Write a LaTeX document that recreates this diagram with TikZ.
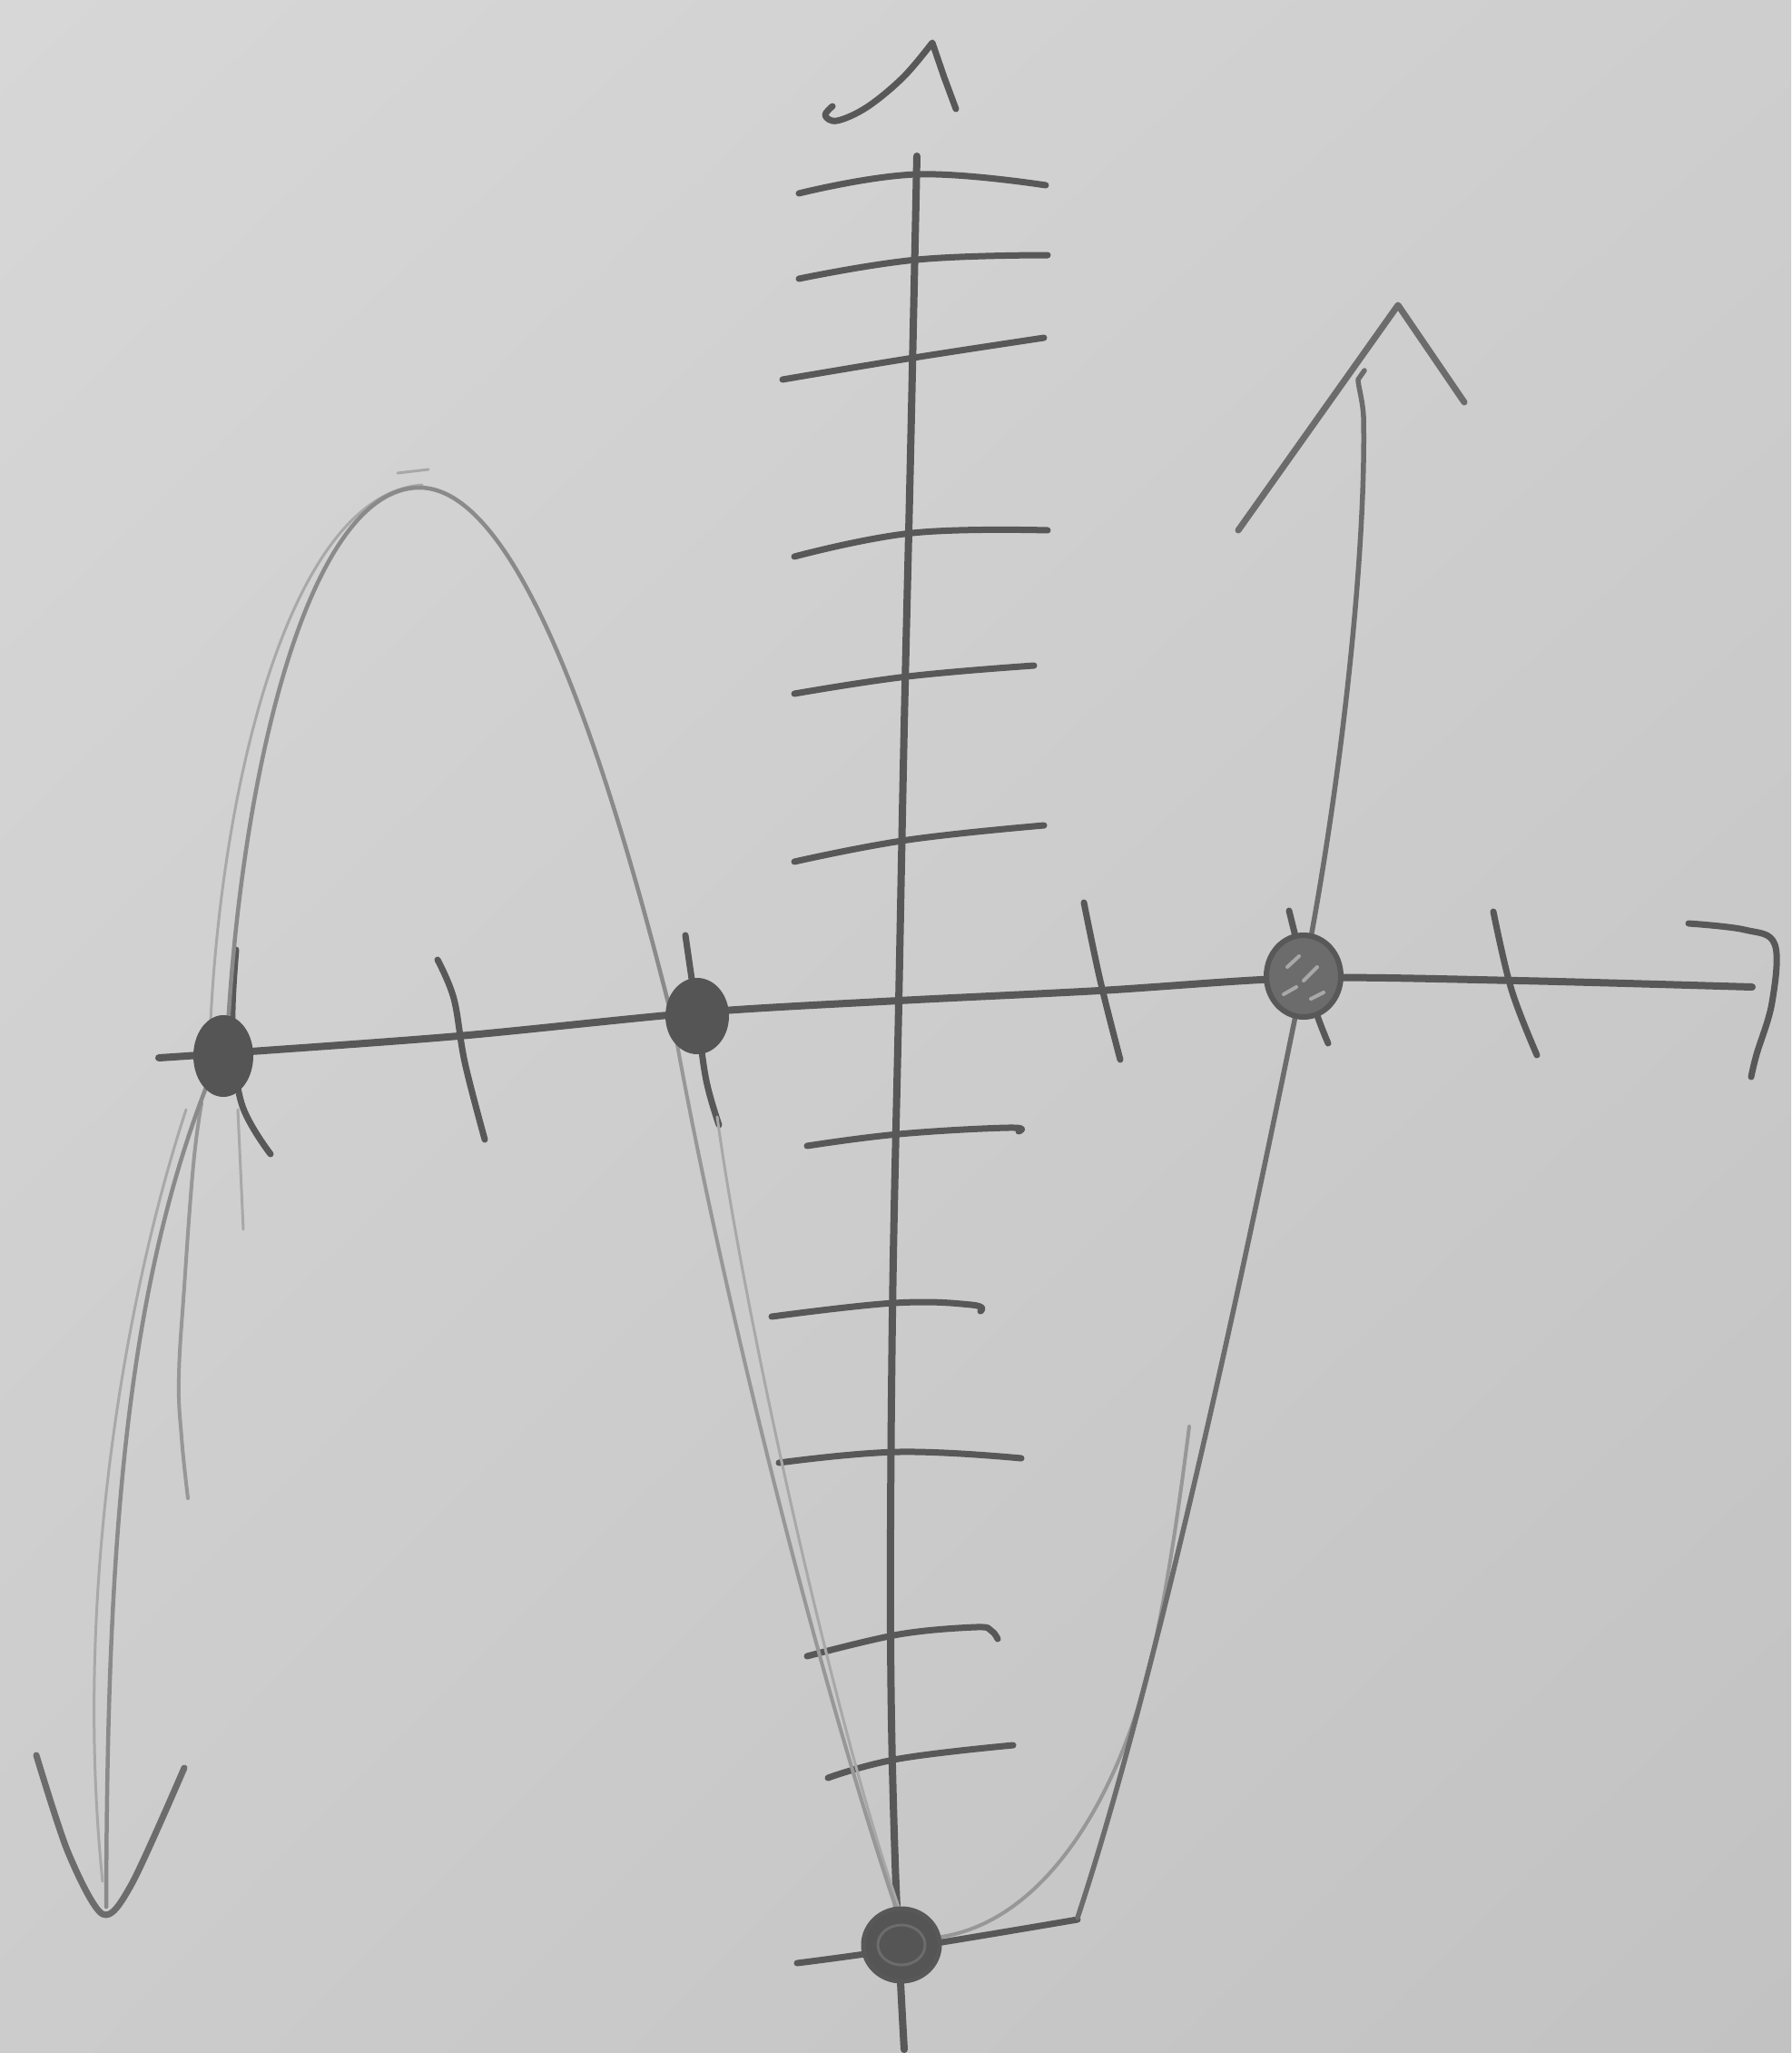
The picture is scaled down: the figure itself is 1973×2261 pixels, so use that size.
\documentclass[tikz,border=0pt]{standalone}
\usetikzlibrary{shadings}
\definecolor{paperA}{HTML}{D7D7D7}
\definecolor{paperB}{HTML}{CECECE}
\definecolor{paperC}{HTML}{CCCCCC}
\definecolor{paperD}{HTML}{C2C2C2}
\definecolor{inkdark}{HTML}{585858}
\definecolor{inkmid}{HTML}{6C6C6C}
\definecolor{inklight}{HTML}{8A8A8A}
\definecolor{inksoft}{HTML}{979797}
\definecolor{inkfaint}{HTML}{A8A8A8}
\definecolor{dotink}{HTML}{555555}
\tikzset{
  axisline/.style={draw=inkdark, line width=8pt, line cap=round, line join=round},
  tickline/.style={draw=inkdark, line width=7pt, line cap=round, line join=round},
  curvelight/.style={draw=inklight, line width=4.5pt, line cap=round, line join=round},
  curvesoft/.style={draw=inksoft, line width=4pt, line cap=round, line join=round},
  curvemid/.style={draw=inkmid, line width=5.5pt, line cap=round, line join=round},
  curvefaint/.style={draw=inkfaint, line width=3pt, line cap=round, line join=round},
  arrowstroke/.style={draw=inkmid, line width=7pt, line cap=round, line join=round},
}
\begin{document}
\begin{tikzpicture}[x=1pt,y=-1pt]
\useasboundingbox (0,0) rectangle (1973,2261);
\shade[upper left=paperA, upper right=paperB, lower left=paperC, lower right=paperD] (0,0) rectangle (1973,2261);

% ---- y axis
\draw[axisline] plot[smooth, tension=0.6] coordinates {(1010,172) (1003,500) (996,800) (990,1105) (983,1450) (981,1800) (986,2050) (996,2257)};
% y arrow (hand drawn caret)
\draw[tickline] plot[smooth, tension=0.6] coordinates {(917,117) (909,127) (922,133) (955,118) (995,85) (1027,47)} -- (1040,85) -- (1053,120);

% ---- y ticks
\draw[tickline] plot[smooth, tension=0.7] coordinates {(880,213) (1010,192) (1152,204)};
\draw[tickline] plot[smooth, tension=0.7] coordinates {(880,307) (1010,286) (1154,281)};
\draw[tickline] plot[smooth, tension=0.7] coordinates {(862,418) (1000,395) (1150,372)};
\draw[tickline] plot[smooth, tension=0.7] coordinates {(875,613) (1005,587) (1154,584)};
\draw[tickline] plot[smooth, tension=0.7] coordinates {(875,764) (1000,745) (1139,733)};
\draw[tickline] plot[smooth, tension=0.7] coordinates {(875,949) (1000,925) (1150,909)};
\draw[tickline] plot[smooth, tension=0.7] coordinates {(889,1262) (990,1249) (1110,1242) (1122,1246)};
\draw[tickline] plot[smooth, tension=0.7] coordinates {(850,1450) (985,1435) (1070,1437) (1080,1444)};
\draw[tickline] plot[smooth, tension=0.7] coordinates {(858,1611) (990,1599) (1125,1606)};
\draw[tickline] plot[smooth, tension=0.6] coordinates {(889,1824) (990,1800) (1075,1792) (1092,1796) (1099,1805)};
\draw[tickline] plot[smooth, tension=0.7] coordinates {(912,1958) (990,1937) (1116,1922)};
\draw[tickline] plot[smooth, tension=0.7] coordinates {(878,2162) (1000,2145) (1187,2114)};

% ---- x axis
\draw[axisline] plot[smooth, tension=0.5] coordinates {(175,1165) (248,1160) (505,1141) (770,1115) (990,1102) (1211,1091) (1436,1077) (1673,1080) (1930,1087)};
% x arrow
\draw[tickline] plot[smooth, tension=0.6] coordinates {(1860,1017) (1922,1024) (1955,1040) (1952,1104) (1935,1161) (1929,1186)};

% ---- x ticks
\draw[tickline] plot[smooth, tension=0.6] coordinates {(260,1046) (256,1130) (266,1215) (298,1271)};
\draw[tickline] plot[smooth, tension=0.6] coordinates {(482,1057) (500,1100) (512,1170) (534,1255)};
\draw[tickline] plot[smooth, tension=0.6] coordinates {(755,1030) (768,1120) (778,1190) (792,1239)};
\draw[tickline] plot[smooth, tension=0.6] coordinates {(1194,994) (1212,1080) (1234,1167)};
\draw[tickline] plot[smooth, tension=0.6] coordinates {(1420,1003) (1445,1100) (1463,1149)};
\draw[tickline] plot[smooth, tension=0.6] coordinates {(1645,1004) (1665,1090) (1693,1162)};

% ---- faint companion strokes
\draw[curvefaint] (205,1222) .. controls (140,1420) and (80,1750) .. (113,2072);
\draw[curvefaint] (232,1125) .. controls (245,860) and (320,545) .. (465,534);
\draw[curvesoft] plot[smooth, tension=0.7] coordinates {(222,1215) (213,1283) (203,1417) (197,1517) (200,1583) (207,1650)};
\draw[curvefaint] (262,1222) -- (268,1354);
\draw[curvefaint] (438,521) -- (472,517);
\draw[curvefaint] (790,1230) .. controls (820,1450) and (920,1900) .. (990,2100);
\draw[curvesoft] (1030,2134) .. controls (1150,2120) and (1230,1980) .. (1265,1840) .. controls (1285,1760) and (1300,1650) .. (1310,1571);

% ---- main curve
\draw[curvelight] (230,1190) .. controls (135,1430) and (118,1720) .. (117,2100);
\draw[curvelight] (250,1150) .. controls (265,850) and (340,537) .. (462,537) .. controls (580,537) and (680,880) .. (742,1128);
\draw[curvesoft] (742,1128) .. controls (790,1400) and (900,1850) .. (995,2125);
\draw[curvemid] (1187,2112) .. controls (1290,1800) and (1400,1250) .. (1436,1075);
\draw[curvemid] (1436,1075) .. controls (1480,850) and (1505,600) .. (1502,459) .. controls (1501,440) and (1496,425) .. (1496,418) -- (1503,408);

% ---- curve arrowheads
\draw[arrowstroke] plot[smooth, tension=0.5] coordinates {(40,1933) (75,2040) (113,2108) (145,2075) (203,1947)};
\draw[arrowstroke] (1364,584) -- (1540,336) -- (1613,443);

% ---- points
\coordinate (p1) at (246,1163);
\coordinate (p2) at (768,1119);
\coordinate (p3) at (1436,1075);
\coordinate (p4) at (993,2142);
\fill[dotink] (p1) ellipse [x radius=33pt, y radius=45pt];
\fill[dotink] (p2) ellipse [x radius=35pt, y radius=42pt];
\filldraw[fill=inkmid, draw=inkdark, line width=6pt] (p3) ellipse [x radius=41pt, y radius=45pt];
\draw[inkfaint, line width=4pt, line cap=round] ([shift={(-18,-10)}]p3) -- ([shift={(-5,-22)}]p3);
\draw[inkfaint, line width=4pt, line cap=round] ([shift={(0,5)}]p3) -- ([shift={(15,-10)}]p3);
\draw[inkfaint, line width=4pt, line cap=round] ([shift={(-22,20)}]p3) -- ([shift={(-8,12)}]p3);
\draw[inkfaint, line width=4pt, line cap=round] ([shift={(8,25)}]p3) -- ([shift={(22,18)}]p3);
\filldraw[fill=dotink, draw=inkdark, line width=5pt] (p4) ellipse [x radius=42pt, y radius=40pt];
\draw[inkmid, line width=3pt] (p4) ellipse [x radius=26pt, y radius=22pt];
\end{tikzpicture}
\end{document}
